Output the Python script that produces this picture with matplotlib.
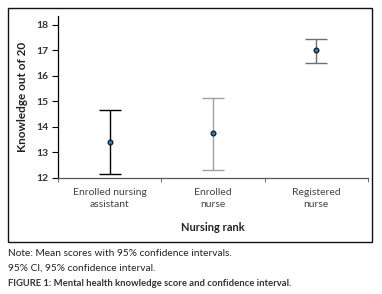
# mean knowledge score with 95% CI by nursing rank

import matplotlib.pyplot as plt
from matplotlib.patches import Rectangle

ranks = ["Enrolled nursing\nassistant", "Enrolled\nnurse", "Registered\nnurse"]
means = [13.42, 13.74, 17.0]
ci_low = [12.17, 12.3, 16.52]
ci_high = [14.67, 15.15, 17.45]
bar_colors = ["#000000", "#a0a0a0", "#707070"]

plt.rcParams["font.family"] = ["Lato", "DejaVu Sans"]

fig = plt.figure(figsize=(3.82, 2.94), dpi=100)
ax = fig.add_axes([0.152, 0.395, 0.811, 0.551])

for i, (m, lo, hi, c) in enumerate(zip(means, ci_low, ci_high, bar_colors)):
    ax.errorbar(i, m, yerr=[[m - lo], [hi - m]], fmt="none", ecolor=c,
                elinewidth=1.0, capsize=8, capthick=1.0)
    ax.plot(i, m, "o", ms=3.5, mfc="#2e75b6", mec="#111111", mew=0.8, zorder=3)

ax.set_xlim(-0.5, 2.5)
ax.set_ylim(12, 18.35)
ax.set_yticks(range(12, 19))
ax.set_xticks([0, 1, 2])
ax.set_xticklabels(ranks, fontsize=7.5, color="#444444", linespacing=1.5)
ax.set_xticks([-0.5, 0.5, 1.5, 2.5], minor=True)
ax.tick_params(axis="x", which="major", length=0, pad=7)
ax.tick_params(axis="x", which="minor", length=3, direction="out", color="#555555")
ax.tick_params(axis="y", length=4, width=0.8, labelsize=7.5, labelcolor="#333333", pad=3)
for lab in ax.get_yticklabels():
    lab.set_fontweight("bold")
for s in ["top", "right"]:
    ax.spines[s].set_visible(False)
ax.spines["left"].set_linewidth(0.9)
ax.spines["bottom"].set_linewidth(0.9)
ax.spines["bottom"].set_color("#555555")

ax.set_ylabel("Knowledge out of 20", fontsize=8.5, fontweight="bold", color="#222222", labelpad=6)
ax.set_xlabel("Nursing rank", fontsize=8, fontweight="bold", color="#222222", labelpad=9)

fig.patches.append(Rectangle((8 / 382, 1 - 242 / 294), 364 / 382, 234 / 294,
                             transform=fig.transFigure, fill=False, lw=1, ec="#111111"))

fig.text(8 / 382, 1 - 254 / 294, "Note: Mean scores with 95% confidence intervals.",
         fontsize=7.3, color="#222222", va="center")
fig.text(8 / 382, 1 - 268 / 294, "95% CI, 95% confidence interval.",
         fontsize=7.3, color="#222222", va="center")
fig.text(8 / 382, 1 - 284 / 294, "FIGURE 1: Mental health knowledge score and confidence interval.",
         fontsize=6.8, color="#333333", va="center", fontweight="bold")

fig.savefig("out.png", dpi=100)
